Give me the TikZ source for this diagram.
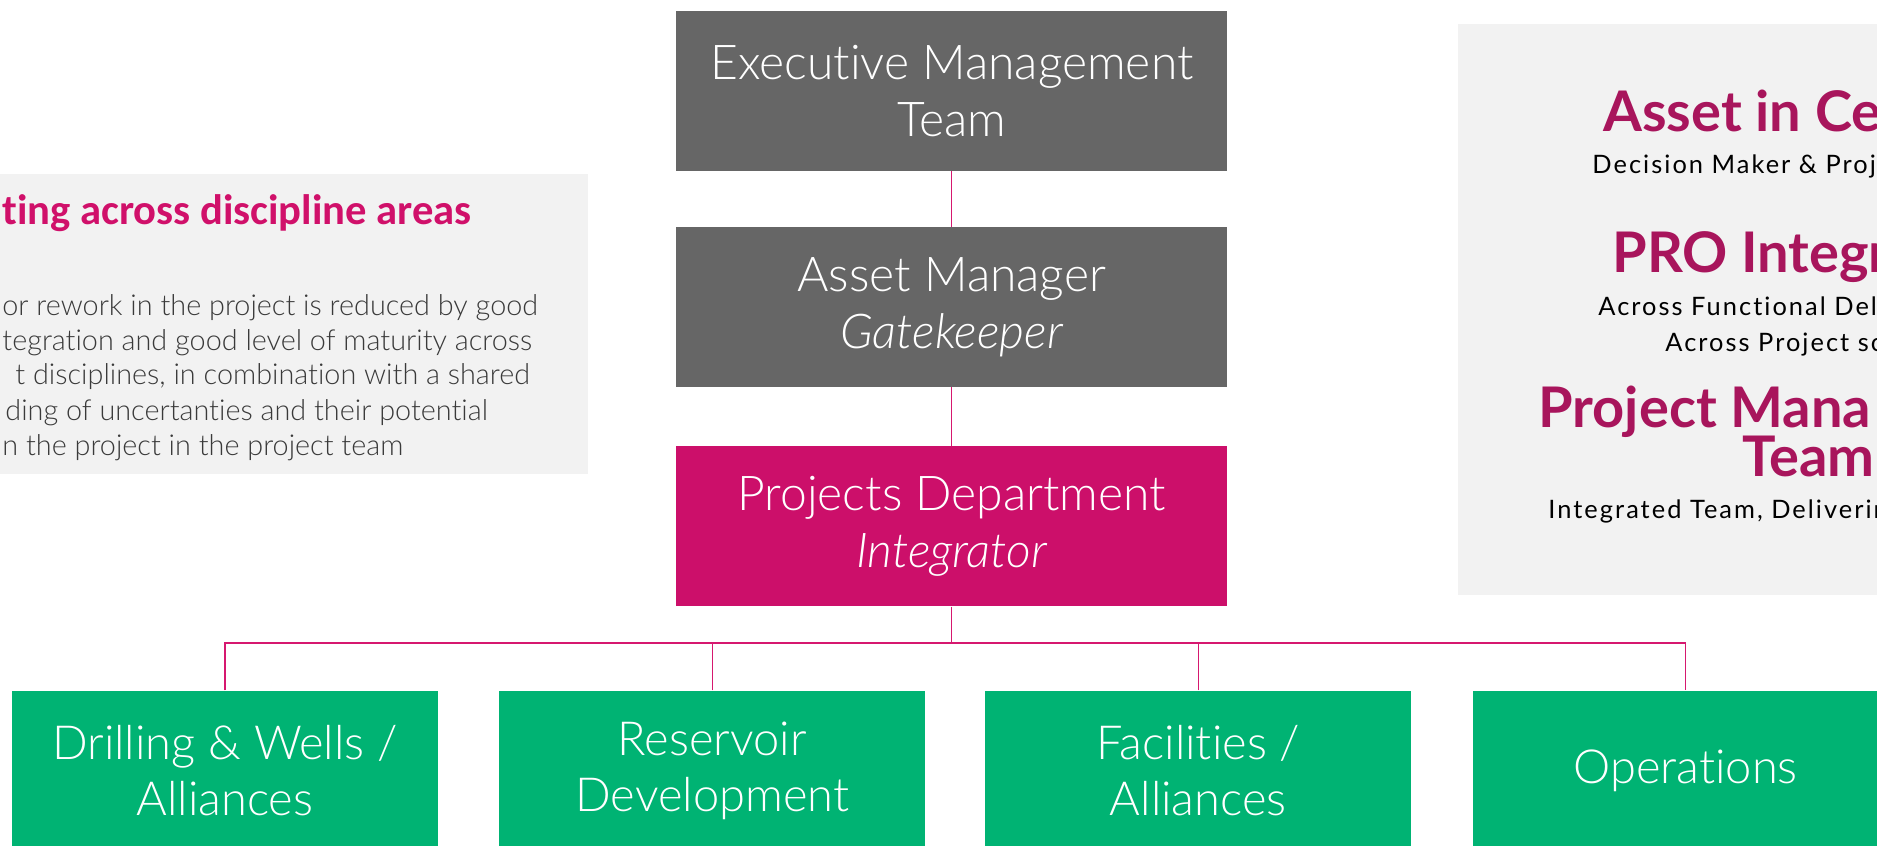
\documentclass[tikz,border=0pt]{standalone}
\usepackage{fontspec}
\setmainfont{Lato}[Ligatures=NoCommon]
\newfontfamily\latolight{Lato Light}[ItalicFont={Lato Light Italic},Ligatures=NoCommon]
\newfontfamily\carlito{Carlito}[Ligatures=NoCommon]
\definecolor{exgray}{HTML}{666666}
\definecolor{magbox}{HTML}{CC0F6A}
\definecolor{grn}{HTML}{00B373}
\definecolor{panel}{HTML}{F2F2F2}
\definecolor{titlemag}{HTML}{D0106A}
\definecolor{rtitlec}{HTML}{A8155C}
\definecolor{bodytxt}{HTML}{3A3A3A}
\definecolor{linemag}{HTML}{D6186F}
\begin{document}
\begin{tikzpicture}[x=0.5pt,y=-0.5pt]
\useasboundingbox (0,0) rectangle (1877,845);
\tikzset{
  orgbox/.style={rectangle, inner sep=0pt, minimum width=275.35pt, minimum height=80pt, text=white, align=center, font=\latolight\fontsize{24}{28.75}\selectfont},
  grnbox/.style={rectangle, inner sep=0pt, fill=grn, minimum width=213pt, minimum height=80pt, text=white, align=center, font=\latolight\fontsize{23.5}{28}\selectfont},
  panelbox/.style={rectangle, inner sep=0pt, fill=panel},
  bodyline/.style={anchor=west, inner sep=0pt, text=bodytxt, font=\latolight\fontsize{14.4}{17}\selectfont},
  ltitle/.style={anchor=west, inner sep=0pt, text=titlemag, font=\carlito\bfseries\fontsize{21.3}{24}\selectfont},
  rtitle/.style={anchor=base west, inner sep=0pt, text=rtitlec, font=\bfseries\fontsize{28}{24.5}\selectfont},
  rsub/.style={anchor=west, inner sep=0pt, text=black, font=\addfontfeature{LetterSpace=8}\fontsize{12.7}{14}\selectfont},
  link/.style={draw=linemag, line width=0.75pt},
}
% panels
\node[panelbox, minimum width=293.85pt, minimum height=150.2pt] (lpanel) at (293.85,323.8) {};
\node[panelbox, minimum width=221pt, minimum height=285.5pt] (rpanel) at (1679,309.5) {};
% left panel text
\node[ltitle] (lt) at (2,213) {ting across discipline areas};
\node[bodyline] (b1) at (2,307.4) {or rework in the project is reduced by good};
\node[bodyline] (b2) at (2,342.4) {tegration and good level of maturity across};
\node[bodyline] (b3) at (15,377) {t disciplines, in combination with a shared};
\node[bodyline] (b4) at (5,413) {ding of uncertanties and their potential};
\node[bodyline] (b5) at (2,447.5) {n the project in the project team};
% right panel text
\node[rtitle] (r1) at (1603,131.2) {Asset in Ce};
\node[rsub] (r2) at (1592,166.3) {Decision Maker \& Proje};
\node[rtitle] (r3) at (1612,272.5) {PRO Integr};
\node[rsub] (r4) at (1598,306) {Across Functional Deli};
\node[rsub] (r5) at (1665,344.5) {Across Project sc};
\node[rtitle] (r6) at (1538,427.5) {Project Mana};
\node[rtitle] (r7) at (1742,476.5) {Team};
\node[rsub] (r8) at (1548,511) {Integrated Team, Deliverin};
% org boxes
\node[orgbox, fill=exgray] (exec) at (951.7,91) {Executive Management\\Team};
\node[orgbox, fill=exgray] (asset) at (951.7,307) {Asset Manager\\\textit{Gatekeeper}};
\node[orgbox, fill=magbox] (proj) at (951.7,526.1) {Projects Department\\\textit{Integrator}};
\node[grnbox] (drill) at (225,770.7) {Drilling \& Wells /\\Alliances};
\node[grnbox] (res) at (712.3,770.7) {Reservoir\\Development};
\node[grnbox] (fac) at (1198.3,770.7) {Facilities /\\Alliances};
\node[grnbox] (ops) at (1685.5,770.7) {Operations};
% connectors
\coordinate (bus) at (951.7,642.8);
\draw[link] (exec) -- (asset);
\draw[link] (asset) -- (proj);
\draw[link] (proj) -- (bus);
\draw[link] (drill.north) -- (drill.north |- bus) -- (ops.north |- bus) -- (ops.north);
\draw[link] (res.north) -- (res.north |- bus);
\draw[link] (fac.north) -- (fac.north |- bus);
\end{tikzpicture}
\end{document}
